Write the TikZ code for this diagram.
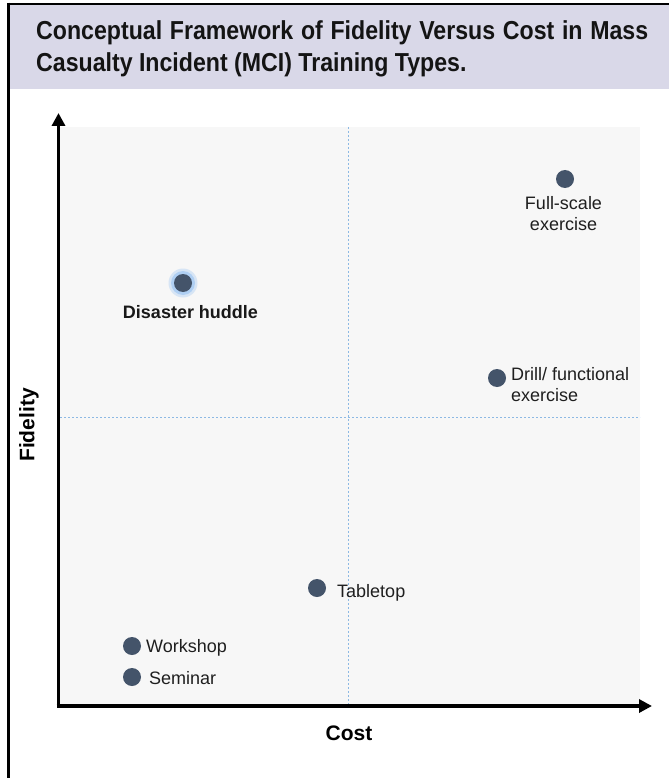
\documentclass[tikz,border=0pt]{standalone}
\usepackage{fontspec}
\setmainfont{Liberation Sans}
\newfontfamily\titlefont[FakeStretch=0.89]{Liberation Sans}
\usetikzlibrary{arrows.meta,calc}

\definecolor{headerfill}{HTML}{D9D8E8}
\definecolor{dotcol}{HTML}{44546A}
\definecolor{plotbg}{HTML}{F7F7F7}
\definecolor{gridcol}{HTML}{8DB9E4}
\definecolor{glowcol}{HTML}{8FBDF2}

\tikzset{
  pt/.style={circle, fill=dotcol, minimum size=18pt, inner sep=0pt},
  lbl/.style={inner sep=0pt, font=\fontsize{18}{21.5}\selectfont, text=black!88},
  bold lbl/.style={inner sep=0pt, font=\bfseries\fontsize{18}{21.5}\selectfont, text=black!90},
  axis/.style={line width=3.6pt, -{Triangle[length=13pt,width=13pt]}},
  grid line/.style={gridcol, line width=0.9pt, dash pattern=on 2pt off 2pt},
  axis title/.style={inner sep=0pt, font=\bfseries\fontsize{21}{25}\selectfont},
  title text/.style={inner sep=0pt, anchor=base west, font=\titlefont\bfseries\fontsize{26}{30}\selectfont, text=black!92}
}

\begin{document}
\begin{tikzpicture}[x=1pt,y=-1pt]
  \useasboundingbox (0,0) rectangle (669,778);

  % frame and header band
  \fill[headerfill] (10,5) rectangle (669,89);
  \draw[line width=2.6pt] (7.5,4) -- (669,4);
  \draw[line width=3pt] (8.5,2.7) -- (8.5,778);

  % title
  \node[title text] (t1) at (36,40) {\makebox[612pt][s]{Conceptual Framework of Fidelity Versus Cost in Mass}};
  \node[title text] (t2) at (36,72) {Casualty Incident (MCI) Training Types.};

  % plotting area
  \fill[plotbg] (60,127) rectangle (640,706);
  \draw[grid line] (348,127) -- (348,706);
  \draw[grid line] (60,417) -- (640,417);

  % axes
  \coordinate (origin) at (58.5,706);
  \coordinate (ytip) at (58.5,113);
  \coordinate (xtip) at (652,706);
  \draw[axis] ($(origin)+(0,1.8)$) -- (ytip);
  \draw[axis] ($(origin)+(-1.8,0)$) -- (xtip);

  \node[axis title] (cost) at (349,733) {Cost};
  \node[axis title, rotate=90] (fidelity) at (29,425) {Fidelity};

  % training types
  \node[circle, fill=glowcol, opacity=0.3, minimum size=29pt, inner sep=0pt] (glow1) at (183,283) {};
  \node[circle, fill=glowcol, opacity=0.55, minimum size=24pt, inner sep=0pt] (glow2) at (183,283) {};
  \node[pt] (huddle) at (183,283) {};
  \node[bold lbl, anchor=base] (huddlelbl) at (190.5,318) {Disaster huddle};

  \node[pt] (full) at (565,179) {};
  \node[lbl, anchor=north, align=center] (fulllbl) at (563.5,196) {Full-scale\\exercise};

  \node[pt] (drill) at (497,378) {};
  \node[lbl, anchor=north west, align=left] (drilllbl) at (511,367) {Drill/ functional\\exercise};

  \node[pt] (tabletop) at (317,588) {};
  \node[lbl, anchor=base west] (tabletoplbl) at (337,597) {Tabletop};

  \node[pt] (workshop) at (132,646) {};
  \node[lbl, anchor=base west] (workshoplbl) at (146,652) {Workshop};

  \node[pt] (seminar) at (132,677) {};
  \node[lbl, anchor=base west] (seminarlbl) at (149,684) {Seminar};
\end{tikzpicture}
\end{document}
